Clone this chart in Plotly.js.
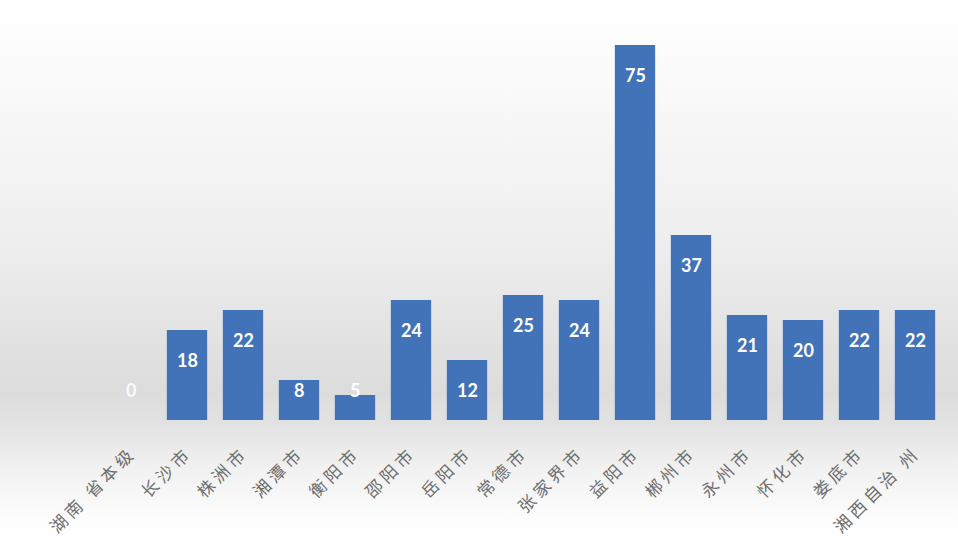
<!DOCTYPE html>
<html>
<head>
<meta charset="utf-8">
<script src="https://cdn.plot.ly/plotly-3.0.1.min.js"></script>
<style>
  html, body { margin: 0; padding: 0; }
  #chart {
    width: 958px; height: 543px;
    background: linear-gradient(to bottom, #ffffff 0%, #fcfcfc 10%, #eeeeee 45%, #dcdcdc 72%, #e2e2e2 78%, #f1f1f1 86%, #fcfcfc 95%, #ffffff 100%);
  }
  #chart .xtick text { letter-spacing: 4px; }
</style>
</head>
<body>
<div id="chart"></div>
<script>
const categories = ["湖南 省本级", "长沙市", "株洲市", "湘潭市", "衡阳市", "邵阳市", "岳阳市", "常德市", "张家界市", "益阳市", "郴州市", "永州市", "怀化市", "娄底市", "湘西自治 州"];
const values = [0, 18, 22, 8, 5, 24, 12, 25, 24, 75, 37, 21, 20, 22, 22];

const H = 543, M_T = 20, M_B = 123, Y_MAX = 80;
const pxPerUnit = (H - M_T - M_B) / Y_MAX;

const annotations = values.map((v, i) => {
  const h = v * pxPerUnit;
  return {
    x: i, y: v, xref: 'x', yref: 'y',
    text: String(v), showarrow: false,
    yanchor: 'middle',
    yshift: -Math.min(30, h - 30),
    font: { family: 'Lato, "Open Sans", sans-serif', size: 18, color: v === 0 ? 'rgba(255,255,255,0.9)' : '#ffffff', weight: 'bold' }
  };
});

const trace = {
  type: 'bar',
  x: categories.map((c, i) => i),
  y: values,
  marker: { color: '#4273b8', line: { width: 0 } },
  width: 0.72,
  hoverinfo: 'none'
};

const layout = {
  width: 958, height: H,
  margin: { l: 103, r: 15, t: M_T, b: M_B },
  paper_bgcolor: 'rgba(0,0,0,0)',
  plot_bgcolor: 'rgba(0,0,0,0)',
  showlegend: false,
  xaxis: {
    range: [-0.5, 14.5],
    tickmode: 'array',
    tickvals: categories.map((c, i) => i),
    ticktext: categories,
    tickangle: -45,
    ticks: '',
    showline: false, showgrid: false, zeroline: false,
    ticklabelstandoff: 19,
    tickfont: { family: '"Noto Sans CJK SC", sans-serif', size: 17, color: '#6e6e6e' }
  },
  yaxis: {
    range: [0, Y_MAX], visible: false, showgrid: false, zeroline: false
  },
  annotations: annotations
};

Plotly.newPlot('chart', [trace], layout, { displayModeBar: false, staticPlot: true });
</script>
</body>
</html>
